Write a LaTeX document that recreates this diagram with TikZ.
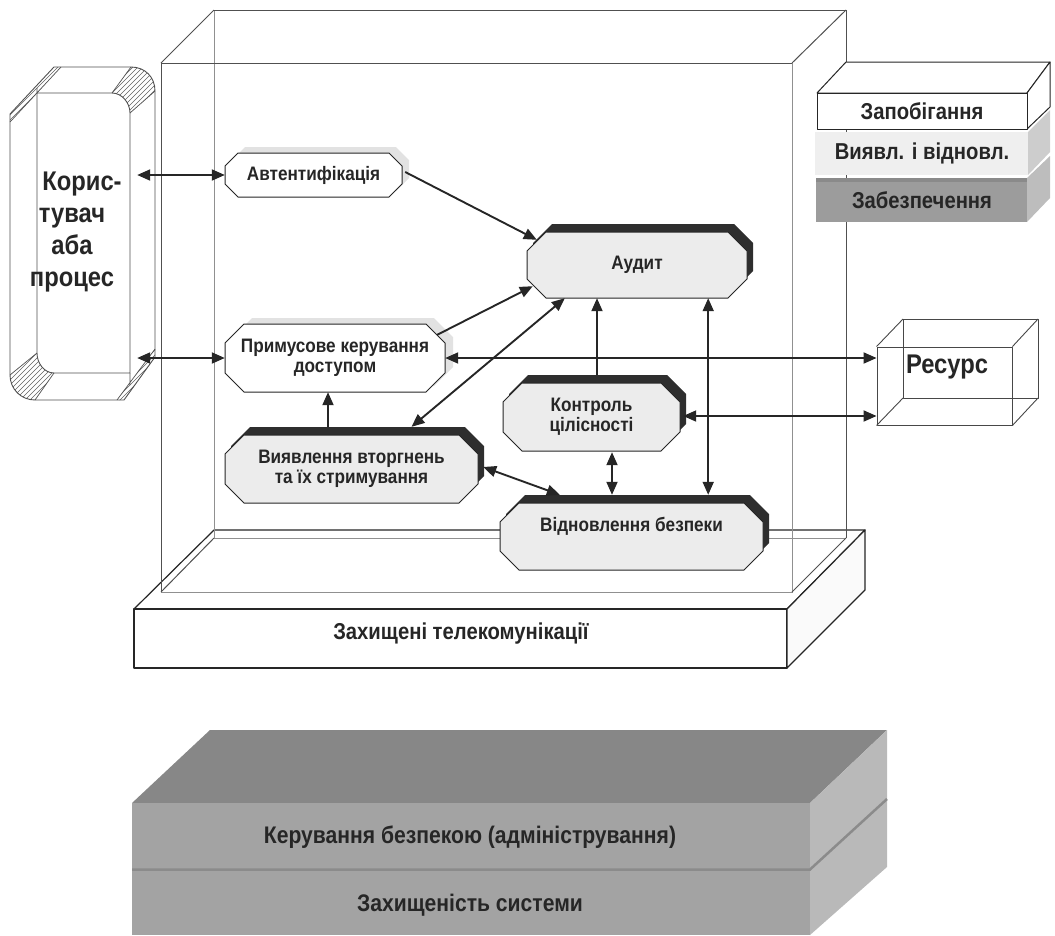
\documentclass[tikz,border=0pt]{standalone}
\usepackage{fontspec}
\setmainfont{Liberation Sans}
\newfontfamily\nar{Liberation Sans}[FakeStretch=0.88]
\usetikzlibrary{arrows.meta,calc}
\definecolor{ink}{HTML}{262626}
\definecolor{ngray}{HTML}{ECECEC}
\definecolor{nshadow}{HTML}{2E2E2E}
\definecolor{lshadow}{HTML}{E2E2E2}
\definecolor{glassf}{HTML}{505050}
\definecolor{glassb}{HTML}{909090}
\definecolor{hatch}{HTML}{606060}
\definecolor{legmid}{HTML}{EFEFEF}
\definecolor{legmidside}{HTML}{CDCDCD}
\definecolor{legbot}{HTML}{9C9C9C}
\definecolor{legbottop}{HTML}{8A8A8A}
\definecolor{legbotside}{HTML}{BDBDBD}
\definecolor{stacktop}{HTML}{878787}
\definecolor{stackfront}{HTML}{A3A3A3}
\definecolor{stackside}{HTML}{B9B9B9}
\definecolor{stacksep}{HTML}{8B8B8B}
\newcommand\octgon[6]{\path[#1] ({#2-(#4)/2+(#6)},{#3-(#5)/2}) -- ({#2+(#4)/2-(#6)},{#3-(#5)/2}) -- ({#2+(#4)/2},{#3-(#5)/2+(#6)}) -- ({#2+(#4)/2},{#3+(#5)/2-(#6)}) -- ({#2+(#4)/2-(#6)},{#3+(#5)/2}) -- ({#2-(#4)/2+(#6)},{#3+(#5)/2}) -- ({#2-(#4)/2},{#3+(#5)/2-(#6)}) -- ({#2-(#4)/2},{#3-(#5)/2+(#6)}) -- cycle;}
\tikzset{
  nlab/.style={inner sep=0pt, text=ink, align=center, font=\nar\bfseries\fontsize{19.5}{20}\selectfont},
  midlab/.style={inner sep=0pt, text=ink, align=center, font=\nar\bfseries\fontsize{23}{26}\selectfont},
  biglab/.style={inner sep=0pt, text=ink, align=center, font=\nar\bfseries\fontsize{27}{32}\selectfont},
  hit/.style={inner sep=0pt, draw=none},
  octline/.style={draw=ink, line width=1pt},
  con/.style={draw=ink, line width=1.9pt, >={Triangle[length=13pt,width=11pt]}},
  frontedge/.style={draw=glassf, line width=1pt},
  backedge/.style={draw=glassb, line width=1pt},
  slab/.style={draw=ink, line width=1.2pt, line join=round},
  wire/.style={draw=ink!85, line width=0.9pt, line join=round},
  hatchline/.style={draw=hatch, line width=0.6pt}
}
\begin{document}
\begin{tikzpicture}[x=1pt,y=-1pt]
\useasboundingbox (0,0) rectangle (1055,935);

% ---------- platform top face ----------
\path[slab, fill=white] (134,609) -- (214,530) -- (865,530) -- (787,609) -- cycle;

% ---------- glass box ----------
\draw[backedge] (214,538) -- (214,10);
\draw[frontedge] (214,10) -- (846,10) -- (846,538);
\draw[backedge] (214,538) -- (846,538);
\draw[frontedge] (161,592) -- (161,63) -- (792,63);
\draw[backedge] (792,63) -- (792,592) -- (161,592);
\draw[frontedge] (161,63) -- (214,10);
\draw[frontedge] (792,63) -- (846,10);
\draw[frontedge] (792,592) -- (846,538);
\draw[frontedge] (161,592) -- (214,538);

% ---------- platform front and side ----------
\path[slab, fill=white] (134,609) rectangle (787,668);
\path[slab, fill=black!2] (787,609) -- (865,530) -- (865,590) -- (787,668) -- cycle;
\node[midlab] (plat) at (461,634) {Захищені телекомунікації};

% ---------- user / process block ----------
\begin{scope}
  \clip (131,67) .. controls (145,67) and (155,77) .. (155,91) -- (130,113) .. controls (130,103) and (122,93) .. (112,93) -- cycle
        (10,375) .. controls (10,389) and (21,400) .. (35,400) -- (54,373) .. controls (44,373) and (37,363) .. (37,353) -- cycle
        (10,114) -- (54,67) -- (61,67) -- (10,122) -- cycle
        (155,357) -- (124,400) -- (117,400) -- (155,349) -- cycle;
  \foreach \i in {-420,-415,...,170} \draw[hatchline] (\i,410) -- ++(360,-360);
\end{scope}
\draw[draw=glassf, line width=0.9pt] (10,114) -- (54,67) -- (131,67) .. controls (145,67) and (155,77) .. (155,91) -- (155,357) -- (124,400) -- (35,400) .. controls (21,400) and (10,389) .. (10,375) -- cycle;
\draw[draw=glassf, line width=0.9pt] (37,93) -- (112,93) .. controls (122,93) and (130,103) .. (130,113) -- (130,373) -- (54,373) .. controls (44,373) and (37,363) .. (37,353) -- cycle;
\draw[draw=glassf, line width=0.7pt] (10,122) -- (61,67) (155,349) -- (117,400) (130,373) -- (130,385) (37,93) -- (37,88);
\draw[draw=glassf, line width=0.7pt] (131,67) -- (112,93) (155,91) -- (130,113) (35,400) -- (54,373) (10,375) -- (37,353);
\node[hit, minimum width=145pt, minimum height=333pt] (usr) at (82.5,233.5) {};
\node[biglab] (usrt) at (72,232) {\hspace*{20pt}Корис-\\тувач\\аба\\процес};

% ---------- legend ----------
\path[slab, line width=1pt, fill=white] (817,93) -- (846,62) -- (1050,62) -- (1027,93) -- cycle;
\path[slab, line width=1pt, fill=white] (1027,93) -- (1050,62) -- (1050,107) -- (1027,129) -- cycle;
\path[slab, line width=1pt, fill=white] (817,93) rectangle (1027,129);
\fill[legmid] (815,132) rectangle (1028,175);
\fill[legmidside] (1028,132) -- (1050,110) -- (1050,152) -- (1028,175) -- cycle;
\fill[legbot] (816,178) rectangle (1027,222);
\fill[legbottop] (816,178) rectangle (1027,182);
\fill[legbotside] (1027,178) -- (1050,156) -- (1050,198) -- (1027,222) -- cycle;
\node[midlab] (leg1) at (922,111) {Запобігання};
\node[midlab] (leg2) at (922,153) {Виявл. і відновл.};
\node[midlab] (leg3) at (922,200) {Забезпечення};

% ---------- resource ----------
\draw[wire] (903,319) rectangle (1038,398);
\node[hit, wire, draw, minimum width=135pt, minimum height=78pt] (res) at (944.5,386) {};
\draw[wire] (res.north west) -- (903,319) (res.north east) -- (1038,319) (res.south east) -- (1038,398) (res.south west) -- (903,398);
\node[biglab] (rest) at (947,367) {Ресурс};

% ---------- nodes ----------
\octgon{fill=lshadow}{320.5}{169}{177}{44}{13}
\octgon{fill=white, octline}{313.5}{175}{177}{44}{13}
\node[nlab, minimum width=177pt, minimum height=44pt] (aut) at (313.5,175) {Автентифікація};

\octgon{fill=nshadow}{643}{257}{220}{66}{19}
\octgon{fill=ngray, octline}{637}{265}{220}{66}{19}
\node[nlab, minimum width=220pt, minimum height=66pt] (aud) at (637,265) {Аудит};

\octgon{fill=lshadow}{343}{352}{220}{68}{19}
\octgon{fill=white, octline}{335}{358}{220}{68}{19}
\node[nlab, minimum width=220pt, minimum height=68pt] (pkd) at (335,358) {Примусове керування\\доступом};

\octgon{fill=nshadow}{357.5}{461}{253}{68}{19}
\octgon{fill=ngray, octline}{351.5}{469}{253}{68}{19}
\node[nlab, minimum width=253pt, minimum height=68pt] (vv) at (351.5,469) {Виявлення вторгнень\\та їх стримування};

\octgon{fill=nshadow}{597.5}{409}{177}{68}{19}
\octgon{fill=ngray, octline}{591.5}{417}{177}{68}{19}
\node[nlab, minimum width=177pt, minimum height=68pt] (kc) at (591.5,417) {Контроль\\цілісності};

\octgon{fill=nshadow}{637.5}{528.5}{263}{67}{19}
\octgon{fill=ngray, octline}{631.5}{536.5}{263}{67}{19}
\node[hit, minimum width=263pt, minimum height=67pt] (vb) at (631.5,536.5) {};
\node[nlab] (vbt) at (631.5,526) {Відновлення безпеки};

% ---------- connectors ----------
\draw[con, <->] ($(usr.east |- aut.west)+(-18,0)$) -- (aut.west);
\draw[con, <->] ($(usr.east |- pkd.west)+(-18,0)$) -- (pkd.west);
\draw[con, ->] ($(aut.east)+(3,-3)$) -- ($(aud.north west)+(10,8)$);
\draw[con, ->] ($(pkd.north east)+(-8,11)$) -- ($(aud.south west)+(6,-12)$);
\draw[con, <->] ($(aud.south west)+(38,0)$) -- ($(vv.north)+(60,-8)$);
\draw[con, ->] ($(kc.north)+(5.5,-8)$) coordinate (k1) -- (k1 |- aud.south);
\draw[con, <->] ($(aud.south east)+(-39,0)$) coordinate (a7) -- ($(a7 |- vb.north)+(0,-8)$);
\draw[con, <->] (pkd.east) -- (res.west |- pkd.east);
\draw[con, <->] ($(kc.east)+(3,-1)$) coordinate (k3) -- (res.west |- k3);
\draw[con, <->] ($(kc.south)+(20.5,1)$) coordinate (k2) -- ($(k2 |- vb.north)+(0,-8)$);
\draw[con, <->] ($(vv.east)+(5,-2)$) -- ($(vb.north west)+(60,-8)$);
\draw[con, ->] ($(vv.north)+(-23.5,-8)$) coordinate (v1) -- (v1 |- pkd.south);

% ---------- bottom stack ----------
\fill[stacktop] (132,803) -- (210,730) -- (887,730) -- (810,803) -- cycle;
\fill[stackfront] (132,803) rectangle (810,935);
\fill[stackside] (810,803) -- (887,730) -- (887,867) -- (810,935) -- cycle;
\draw[stacksep, line width=2.5pt] (132,869.5) -- (810,869.5) -- (887,799);
\node[midlab, font=\nar\bfseries\fontsize{24}{26}\selectfont] (adm) at (470,837) {Керування безпекою (адміністрування)};
\node[midlab, font=\nar\bfseries\fontsize{24}{26}\selectfont] (sys) at (470,905) {Захищеність системи};
\end{tikzpicture}
\end{document}
